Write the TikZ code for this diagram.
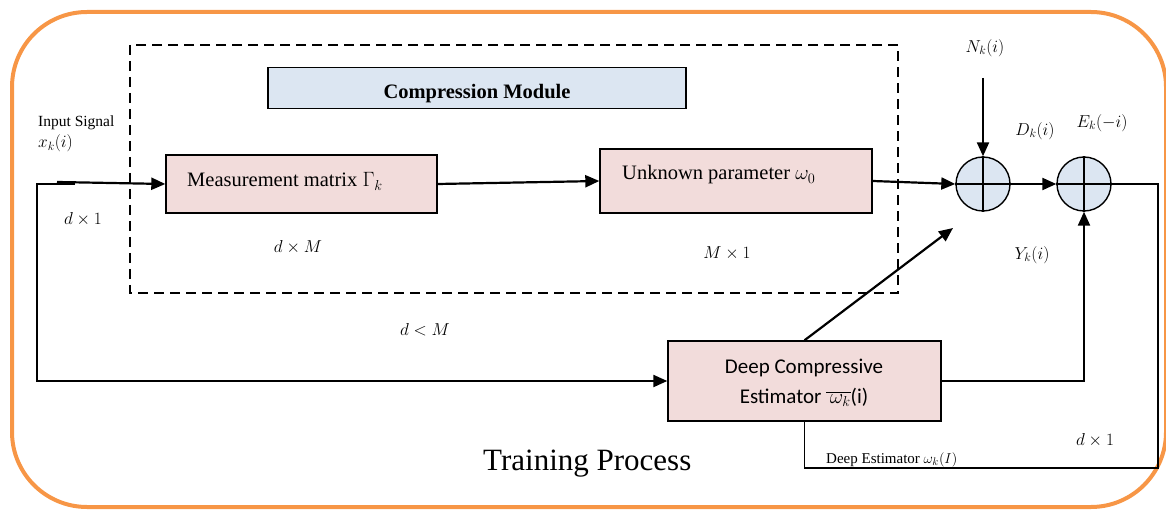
\documentclass[tikz,border=0pt]{standalone}
\usepackage{fontspec}
\setmainfont{Liberation Serif}
\newfontfamily\calfont{Carlito}
\usetikzlibrary{arrows.meta}
\definecolor{frameorange}{HTML}{F79646}
\definecolor{boxpink}{HTML}{F2DCDB}
\definecolor{boxblue}{HTML}{DCE6F2}
\tikzset{
  pinkbox/.style={draw, line width=1.4pt, fill=boxpink, rectangle, inner sep=0pt},
  bluebox/.style={draw, line width=1.4pt, fill=boxblue, rectangle, inner sep=0pt},
  sumnode/.style={draw, line width=1.4pt, fill=boxblue, circle, minimum size=54pt, inner sep=0pt},
  arr/.style={line width=2.2pt, -{Triangle[length=14pt,width=12pt]}},
  thinline/.style={line width=1.5pt},
  lbl/.style={inner sep=0pt, font=\fontsize{17.5}{20}\selectfont},
}
\begin{document}
\begin{tikzpicture}[x=1pt,y=-1pt]
\useasboundingbox (0,0) rectangle (1166,510);
% outer frame
\draw[frameorange, line width=4pt, rounded corners=75pt] (12,12) rectangle (1166,507);
% dashed compression region
\draw[line width=1.3pt, dash pattern=on 10pt off 6pt] (130,45) rectangle (898,293);

% boxes
\node[bluebox, minimum width=418pt, minimum height=41pt] (cm) at (477,88) {};
\node[inner sep=0pt, anchor=base, font=\fontsize{20.5}{24}\selectfont\bfseries] (cmt) at (477,99) {Compression Module};

\node[pinkbox, minimum width=271pt, minimum height=58pt] (mm) at (301.5,184) {};
\node[inner sep=0pt, anchor=base west, font=\fontsize{20.5}{24}\selectfont] (mmt) at (187,187) {Measurement matrix $\Gamma_k$};

\node[pinkbox, minimum width=272pt, minimum height=64pt] (up) at (736,181) {};
\node[inner sep=0pt, anchor=base west, font=\fontsize{20.5}{24}\selectfont] (upt) at (622,180) {Unknown parameter $\omega_0$};

\node[pinkbox, minimum width=273pt, minimum height=80pt] (dce) at (804.5,381) {};
\node[inner sep=0pt, anchor=base, font=\fontsize{21}{25}\calfont] (dcea) at (804,373) {Deep Compressive};
\node[inner sep=0pt, anchor=base, font=\fontsize{21}{25}\calfont] (dceb) at (804,403) {Estimator $\overline{\,\omega_k}$(i)};

% summing junctions
\node[sumnode] (s1) at (983,184) {};
\node[sumnode] (s2) at (1084,184) {};
\draw[line width=1.4pt] (s1.west) -- (s1.east) (s1.north) -- (s1.south);
\draw[line width=1.4pt] (s2.west) -- (s2.east) (s2.north) -- (s2.south);

% labels
\node[inner sep=0pt, anchor=base west, font=\fontsize{15.5}{18}\selectfont] (ins) at (38,127) {Input Signal};
\node[lbl, anchor=base west] (inx) at (38,148) {$x_k(i)$};
\node[lbl] (d1a) at (83,219) {$d\times 1$};
\node[lbl] (dM) at (298,247) {$d\times M$};
\node[lbl] (M1) at (727,253) {$M\times 1$};
\node[lbl] (dlM) at (425,330) {$d<M$};
\node[lbl] (Nk) at (985,48) {$N_k(i)$};
\node[lbl] (Dk) at (1035,131) {$D_k(i)$};
\node[lbl] (Ek) at (1102,123) {$E_k(-i)$};
\node[lbl] (Yk) at (1032,255) {$Y_k(i)$};
\node[lbl] (d1b) at (1095,440) {$d\times 1$};
\node[inner sep=0pt, anchor=base west, font=\fontsize{15}{18}\selectfont] (dest) at (826,463) {Deep Estimator $\omega_k(I)$};
\node[inner sep=0pt, anchor=base west, font=\fontsize{31}{36}\selectfont] (tp) at (483,470) {Training Process};

% coordinates
\coordinate (inA) at (57,182);
\coordinate (inB) at (75,184);
\coordinate (c1) at (37,184);
\coordinate (nk) at (983,78);
\coordinate (tip) at (953,228);
\coordinate (fbR) at (1158,468);

% connectors
\draw[arr] (inA) -- (mm.west);
\draw[arr] (inB) -- (c1) |- (dce.west);
\draw[arr] (mm.east) -- (up.west);
\draw[arr] (up.east) -- (s1.west);
\draw[arr] (nk) -- (s1.north);
\draw[arr] (s1.east) -- (s2.west);
\draw[arr] (dce.east) -| (s2.south);
\draw[arr] (dce.north) -- (tip);
\draw[thinline] (s2.east) -| (fbR) -| (dce.south);
\end{tikzpicture}
\end{document}
